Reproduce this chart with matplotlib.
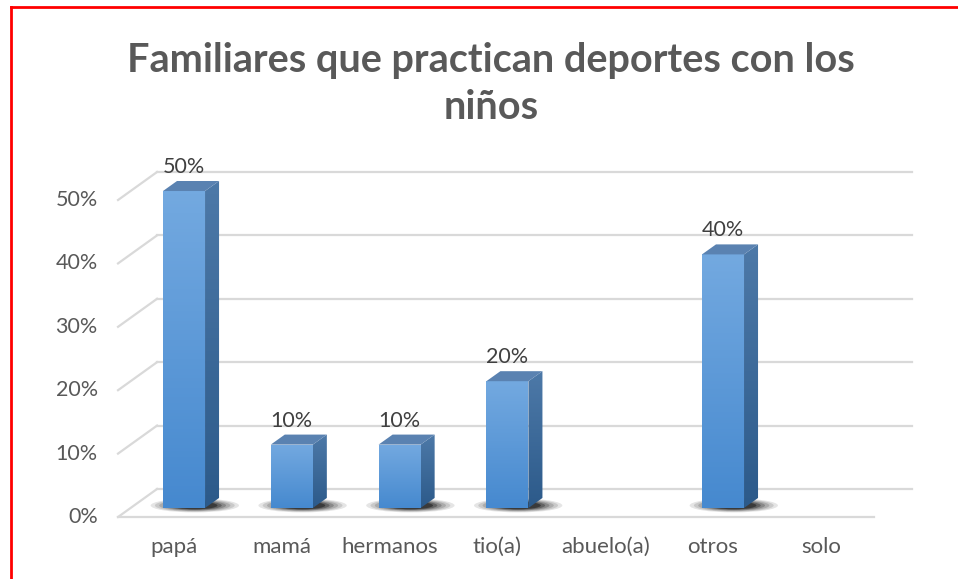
import matplotlib.pyplot as plt
import numpy as np
from matplotlib.patches import Polygon, Ellipse
from matplotlib.lines import Line2D
from matplotlib.colors import LinearSegmentedColormap

categorias = ['papá', 'mamá', 'hermanos', 'tio(a)', 'abuelo(a)', 'otros', 'solo']
valores = [50, 10, 10, 20, 0, 40, 0]
marcas_y = [0, 10, 20, 30, 40, 50]
titulo = 'Familiares que practican deportes con los\nniños'

plt.rcParams['font.family'] = ['Lato', 'DejaVu Sans']

fig = plt.figure(figsize=(9.58, 5.79), dpi=100)
ax = fig.add_axes([0, 0, 1, 1])
ax.set_xlim(-1.707, 7.180)
ax.set_ylim(-11.2, 80.13)
ax.axis('off')

# desplazamientos de la perspectiva (unidades de datos)
fx, fy = -0.612, -1.42   # esquina frontal izquierda
bx, by = -0.25, 3.0      # pared del fondo
bx2 = 6.753
fx2 = 6.40
ancho = 0.39
px, py = 0.13, 1.58      # profundidad de la barra

gris = '#d9d9d9'
for v in marcas_y:
    ax.plot([bx, bx2], [v + by, v + by], color=gris, lw=1.6, zorder=1)
    ax.plot([fx, bx], [v + fy, v + by], color=gris, lw=1.6, zorder=1)
    ax.text(-0.80, v + fy, f'{v}%', ha='right', va='center',
            fontsize=15.5, color='#595959')
ax.plot([fx, fx2], [fy, fy], color=gris, lw=1.6, zorder=1)

cm_frente = LinearSegmentedColormap.from_list('f', ['#4689cf', '#73a9e0'])
cm_lado = LinearSegmentedColormap.from_list('l', ['#2c5a8a', '#4d79a8'])
grad = np.linspace(0, 1, 100).reshape(-1, 1)

for i, (cat, v) in enumerate(zip(categorias, valores)):
    ax.text(i - 0.093, -6.15, cat, ha='center', va='center',
            fontsize=16, color='#595959')
    if v <= 0:
        continue
    x0, x1 = i - ancho / 2, i + ancho / 2
    # sombra
    for k, a in zip(range(6), [0.10, 0.12, 0.15, 0.2, 0.28, 0.4]):
        e = Ellipse((i + 0.1, 0.4), 0.82 - k * 0.08, 2.2 - k * 0.2,
                    color='black', alpha=a, lw=0, zorder=2)
        ax.add_patch(e)
    frente = Polygon([(x0, 0), (x1, 0), (x1, v), (x0, v)], closed=True,
                     facecolor='none', edgecolor='none', zorder=3)
    ax.add_patch(frente)
    im = ax.imshow(grad, cmap=cm_frente, origin='lower', aspect='auto',
                   extent=(x0, x1, 0, v), zorder=3)
    im.set_clip_path(frente)
    lado = Polygon([(x1, 0), (x1 + px, py), (x1 + px, v + py), (x1, v)],
                   closed=True, facecolor='none', edgecolor='none', zorder=3)
    ax.add_patch(lado)
    im2 = ax.imshow(grad, cmap=cm_lado, origin='lower', aspect='auto',
                    extent=(x1, x1 + px, 0, v + py), zorder=3)
    im2.set_clip_path(lado)
    tapa = Polygon([(x0, v), (x1, v), (x1 + px, v + py), (x0 + px, v + py)],
                   closed=True, facecolor='#5a82b1', edgecolor='none', zorder=3)
    ax.add_patch(tapa)
    ax.text(i, v + 3.8, f'{v}%', ha='center', va='center',
            fontsize=15.5, color='#404040', zorder=4)

fig.text(491 / 958, 1 - 84 / 579, titulo, ha='center', va='center',
         fontsize=28.5, fontweight='bold', color='#595959', linespacing=1.35)

# borde rojo
fig.add_artist(Line2D([11 / 958, 11 / 958], [0, 1 - 7 / 579],
                      transform=fig.transFigure, color='red', lw=2))
fig.add_artist(Line2D([11 / 958, 1], [1 - 7 / 579, 1 - 7 / 579],
                      transform=fig.transFigure, color='red', lw=2))

fig.savefig('out.png', dpi=100)
